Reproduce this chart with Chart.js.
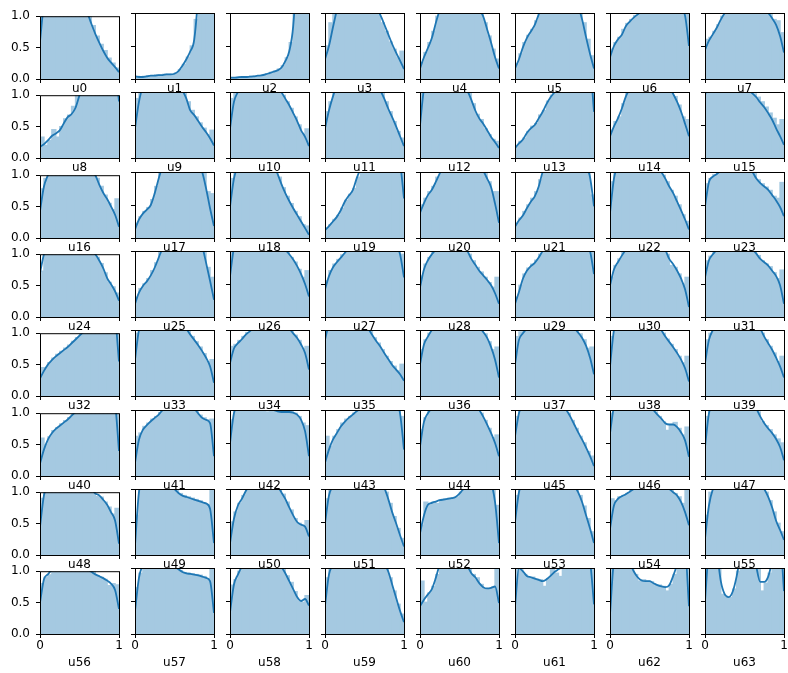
<!DOCTYPE html>
<html>
<head>
<meta charset="utf-8">
<script src="https://cdn.jsdelivr.net/npm/chart.js@4.4.1/dist/chart.umd.min.js"></script>
<style>
  html, body { margin: 0; padding: 0; background: #fff; }
  #grid { position: relative; width: 788px; height: 673px; overflow: hidden; }
  #grid canvas { position: absolute; }
</style>
</head>
<body>
<div id="grid"></div>
<script>
// Histogram bin centres (20 bins on [0, 1]) and the grid the density curves are sampled on.
const binCenters = [0.025,0.075,0.125,0.175,0.225,0.275,0.325,0.375,0.425,0.475,0.525,0.575,0.625,0.675,0.725,0.775,0.825,0.875,0.925,0.975];
const kdeGrid = [0,0.05,0.1,0.15,0.2,0.25,0.3,0.35,0.4,0.45,0.5,0.55,0.6,0.65,0.7,0.75,0.8,0.85,0.9,0.95,1];
const xTickValues = [0, 1];
const yTickValues = [0, 0.5, 1];

// Per-variable histogram densities and kernel density estimates.
const u0_hist = [1.1,1.35,1.45,1.5,1.55,1.55,1.5,1.45,1.4,1.3,1.25,1.15,1.0,0.85,0.68,0.55,0.45,0.33,0.25,0.17];
const u0_kde = [0.6,1.2,1.4,1.5,1.55,1.55,1.5,1.45,1.4,1.3,1.25,1.15,1.05,0.88,0.72,0.58,0.45,0.34,0.26,0.19,0.11];
const u1_hist = [0.04,0.03,0.04,0.05,0.05,0.06,0.06,0.07,0.07,0.07,0.09,0.14,0.22,0.33,0.5,0.9,1.8,3.0,3.8,4.2];
const u1_kde = [0.04,0.03,0.03,0.04,0.05,0.05,0.06,0.06,0.07,0.07,0.08,0.12,0.2,0.3,0.42,0.6,1.3,2.5,3.5,4.2,4.0];
const u2_hist = [0.02,0.02,0.03,0.03,0.03,0.04,0.04,0.05,0.06,0.08,0.1,0.12,0.15,0.2,0.32,0.55,1.2,2.8,4.8,6.0];
const u2_kde = [0.02,0.02,0.025,0.03,0.03,0.035,0.04,0.05,0.055,0.07,0.09,0.11,0.13,0.17,0.27,0.42,0.8,1.8,3.5,5.5,6.0];
const u3_hist = [0.5,0.85,1.1,1.35,1.45,1.55,1.6,1.6,1.55,1.45,1.35,1.25,1.1,0.98,0.85,0.72,0.56,0.45,0.32,0.42];
const u3_kde = [0.3,0.5,0.78,1.05,1.3,1.45,1.55,1.6,1.6,1.55,1.45,1.35,1.2,1.08,0.97,0.83,0.68,0.53,0.4,0.28,0.15];
const u4_hist = [0.25,0.4,0.55,0.72,0.95,1.15,1.3,1.45,1.5,1.55,1.55,1.5,1.4,1.3,1.15,1.0,0.85,0.65,0.45,0.3];
const u4_kde = [0.16,0.33,0.47,0.62,0.85,1.05,1.25,1.4,1.5,1.55,1.55,1.5,1.45,1.35,1.2,1.05,0.95,0.75,0.55,0.33,0.16];
const u5_hist = [0.22,0.38,0.55,0.66,0.75,0.88,1.05,1.2,1.35,1.4,1.45,1.45,1.45,1.4,1.35,1.25,1.1,0.85,0.6,0.35];
const u5_kde = [0.16,0.3,0.48,0.62,0.72,0.82,0.98,1.15,1.3,1.4,1.45,1.45,1.45,1.4,1.35,1.25,1.1,0.9,0.63,0.38,0.16];
const u6_hist = [0.45,0.55,0.63,0.75,0.84,0.9,0.96,1.0,1.05,1.08,1.1,1.12,1.13,1.14,1.15,1.15,1.14,1.1,1.05,1.05];
const u6_kde = [0.33,0.5,0.6,0.67,0.8,0.87,0.93,0.98,1.03,1.07,1.1,1.12,1.13,1.14,1.15,1.15,1.15,1.12,1.06,0.96,0.5];
const u7_hist = [0.6,0.63,0.72,0.82,0.95,1.05,1.1,1.15,1.2,1.22,1.22,1.2,1.18,1.15,1.1,1.05,0.98,0.9,0.88,0.7];
const u7_kde = [0.44,0.58,0.68,0.78,0.9,1.0,1.08,1.15,1.2,1.22,1.22,1.2,1.18,1.15,1.1,1.05,1.0,0.92,0.82,0.65,0.4];
const u8_hist = [0.33,0.2,0.28,0.45,0.33,0.5,0.62,0.68,0.82,1.1,1.25,1.4,1.5,1.6,1.65,1.7,1.7,1.65,1.55,1.3];
const u8_kde = [0.18,0.22,0.28,0.35,0.39,0.44,0.55,0.65,0.7,0.8,1.0,1.2,1.4,1.5,1.6,1.65,1.7,1.7,1.65,1.5,0.9];
const u9_hist = [0.9,1.0,1.2,1.3,1.38,1.42,1.45,1.45,1.42,1.35,1.25,1.15,1.02,0.85,0.72,0.62,0.53,0.45,0.35,0.42];
const u9_kde = [0.45,0.85,1.1,1.25,1.35,1.42,1.45,1.45,1.42,1.35,1.25,1.15,1.03,0.9,0.72,0.65,0.56,0.47,0.39,0.3,0.19];
const u10_hist = [0.9,1.0,1.1,1.2,1.25,1.3,1.33,1.35,1.35,1.32,1.25,1.15,1.05,0.95,0.85,0.75,0.62,0.5,0.36,0.44];
const u10_kde = [0.45,0.85,1.0,1.1,1.2,1.25,1.3,1.33,1.35,1.35,1.3,1.2,1.08,1.0,0.9,0.8,0.68,0.56,0.42,0.32,0.18];
const u11_hist = [0.7,0.85,1.0,1.15,1.25,1.3,1.35,1.35,1.35,1.33,1.3,1.25,1.18,1.1,0.98,0.85,0.7,0.55,0.4,0.3];
const u11_kde = [0.45,0.72,0.93,1.1,1.2,1.28,1.33,1.35,1.35,1.33,1.3,1.25,1.18,1.1,1.02,0.9,0.75,0.62,0.48,0.33,0.18];
const u12_hist = [1.0,1.2,1.3,1.38,1.42,1.45,1.45,1.42,1.38,1.3,1.2,1.1,0.98,0.82,0.66,0.58,0.44,0.35,0.28,0.25];
const u12_kde = [0.5,1.05,1.25,1.35,1.4,1.45,1.45,1.45,1.4,1.32,1.22,1.12,1.02,0.88,0.72,0.6,0.52,0.42,0.32,0.24,0.15];
const u13_hist = [0.18,0.25,0.3,0.4,0.48,0.52,0.65,0.72,0.86,0.95,1.05,1.2,1.3,1.4,1.5,1.52,1.55,1.52,1.45,1.3];
const u13_kde = [0.15,0.22,0.28,0.38,0.45,0.5,0.6,0.7,0.82,0.92,1.0,1.12,1.25,1.35,1.45,1.5,1.55,1.55,1.5,1.4,0.7];
const u14_hist = [0.42,0.55,0.62,0.82,0.98,1.1,1.18,1.22,1.26,1.28,1.3,1.3,1.28,1.25,1.18,1.05,0.93,0.8,0.62,0.58];
const u14_kde = [0.33,0.48,0.6,0.75,0.93,1.05,1.15,1.2,1.25,1.28,1.3,1.3,1.28,1.25,1.18,1.08,0.97,0.85,0.7,0.52,0.33];
const u15_hist = [1.2,1.25,1.3,1.35,1.35,1.33,1.3,1.25,1.2,1.12,1.06,1.03,0.97,0.92,0.85,0.77,0.68,0.6,0.5,0.58];
const u15_kde = [0.95,1.2,1.3,1.35,1.35,1.33,1.3,1.25,1.2,1.12,1.07,1.03,0.98,0.92,0.84,0.77,0.68,0.58,0.45,0.33,0.2];
const u16_hist = [0.78,0.95,1.1,1.2,1.28,1.32,1.36,1.38,1.38,1.35,1.3,1.25,1.15,1.05,0.95,0.82,0.68,0.55,0.45,0.62];
const u16_kde = [0.43,0.82,1.0,1.15,1.25,1.3,1.35,1.38,1.38,1.35,1.3,1.25,1.15,1.05,1.0,0.85,0.72,0.62,0.5,0.37,0.18];
const u17_hist = [0.22,0.32,0.4,0.46,0.58,0.78,1.0,1.2,1.3,1.38,1.42,1.45,1.45,1.42,1.35,1.25,1.12,0.98,0.7,0.67];
const u17_kde = [0.13,0.28,0.37,0.43,0.5,0.68,0.9,1.1,1.25,1.35,1.42,1.45,1.45,1.42,1.35,1.25,1.12,1.0,0.75,0.45,0.18];
const u18_hist = [0.9,1.05,1.2,1.3,1.38,1.42,1.45,1.45,1.42,1.36,1.25,1.05,0.92,0.76,0.63,0.52,0.4,0.32,0.2,0.18];
const u18_kde = [0.48,0.9,1.1,1.25,1.35,1.42,1.45,1.45,1.42,1.38,1.3,1.12,0.98,0.82,0.68,0.56,0.45,0.35,0.25,0.15,0.05];
const u19_hist = [0.15,0.2,0.28,0.34,0.45,0.57,0.66,0.75,0.92,1.05,1.15,1.25,1.35,1.42,1.48,1.52,1.55,1.55,1.45,1.2];
const u19_kde = [0.12,0.18,0.25,0.32,0.42,0.55,0.64,0.72,0.9,1.05,1.15,1.25,1.35,1.42,1.48,1.52,1.55,1.55,1.45,1.15,0.6];
const u20_hist = [0.5,0.6,0.7,0.78,0.92,1.05,1.15,1.2,1.24,1.26,1.27,1.27,1.25,1.22,1.16,1.08,0.98,0.85,0.7,0.7];
const u20_kde = [0.38,0.53,0.65,0.73,0.85,0.98,1.1,1.18,1.22,1.25,1.27,1.27,1.25,1.22,1.18,1.1,1.02,0.9,0.77,0.52,0.23];
const u21_hist = [0.22,0.3,0.4,0.5,0.6,0.7,0.88,1.05,1.15,1.25,1.3,1.33,1.36,1.37,1.38,1.37,1.33,1.25,1.1,0.65];
const u21_kde = [0.17,0.27,0.34,0.45,0.55,0.63,0.78,1.0,1.12,1.2,1.28,1.32,1.35,1.37,1.38,1.38,1.35,1.28,1.1,0.92,0.48];
const u22_hist = [0.85,1.05,1.2,1.28,1.33,1.37,1.38,1.37,1.33,1.28,1.2,1.12,1.05,0.95,0.85,0.72,0.63,0.5,0.35,0.25];
const u22_kde = [0.38,0.9,1.1,1.22,1.3,1.35,1.38,1.38,1.35,1.3,1.22,1.15,1.08,1.0,0.9,0.78,0.68,0.55,0.42,0.28,0.13];
const u23_hist = [0.82,0.9,0.96,1.0,1.04,1.08,1.1,1.12,1.13,1.12,1.1,1.05,0.98,0.88,0.82,0.77,0.72,0.63,0.6,0.84];
const u23_kde = [0.48,0.85,0.93,0.97,1.02,1.06,1.1,1.12,1.13,1.12,1.1,1.05,1.0,0.9,0.83,0.78,0.73,0.65,0.57,0.47,0.33];
const u24_hist = [0.73,1.05,1.2,1.28,1.3,1.32,1.33,1.33,1.32,1.3,1.25,1.2,1.12,1.05,0.95,0.85,0.7,0.55,0.48,0.38];
const u24_kde = [0.7,1.0,1.15,1.25,1.3,1.32,1.33,1.33,1.32,1.3,1.25,1.2,1.12,1.05,1.0,0.9,0.78,0.62,0.52,0.41,0.26];
const u25_hist = [0.3,0.43,0.5,0.58,0.7,0.82,0.98,1.12,1.22,1.3,1.38,1.4,1.42,1.42,1.4,1.35,1.22,1.0,0.75,0.6];
const u25_kde = [0.2,0.37,0.47,0.54,0.63,0.75,0.9,1.05,1.18,1.28,1.35,1.4,1.42,1.42,1.4,1.35,1.25,1.08,0.82,0.55,0.26];
const u26_hist = [1.0,1.15,1.25,1.3,1.33,1.36,1.38,1.37,1.36,1.33,1.28,1.22,1.15,1.07,0.98,0.9,0.83,0.72,0.6,0.7];
const u26_kde = [0.62,1.05,1.2,1.28,1.32,1.35,1.37,1.38,1.37,1.35,1.3,1.25,1.18,1.1,1.02,0.95,0.87,0.77,0.65,0.5,0.31];
const u27_hist = [0.55,0.7,0.8,0.87,0.94,1.0,1.08,1.15,1.2,1.23,1.26,1.27,1.28,1.28,1.27,1.25,1.22,1.18,1.1,0.95];
const u27_kde = [0.42,0.62,0.75,0.83,0.9,0.97,1.05,1.12,1.18,1.22,1.25,1.27,1.28,1.28,1.27,1.25,1.22,1.18,1.1,0.95,0.6];
const u28_hist = [0.62,0.8,0.9,0.98,1.05,1.14,1.22,1.26,1.27,1.22,1.15,1.05,0.95,0.85,0.75,0.68,0.6,0.52,0.45,0.6];
const u28_kde = [0.45,0.72,0.86,0.95,1.02,1.1,1.18,1.25,1.28,1.25,1.18,1.08,1.0,0.88,0.79,0.7,0.63,0.56,0.48,0.36,0.2];
const u29_hist = [0.3,0.48,0.65,0.74,0.8,0.86,0.95,1.05,1.12,1.18,1.22,1.24,1.26,1.27,1.28,1.28,1.27,1.23,1.12,1.0];
const u29_kde = [0.2,0.38,0.58,0.7,0.77,0.82,0.9,1.0,1.08,1.15,1.2,1.23,1.25,1.27,1.28,1.28,1.27,1.25,1.15,1.0,0.65];
const u30_hist = [0.6,0.78,0.88,0.98,1.06,1.14,1.22,1.28,1.32,1.33,1.32,1.26,1.17,1.07,0.95,0.78,0.75,0.65,0.5,0.6];
const u30_kde = [0.48,0.72,0.83,0.93,1.02,1.1,1.18,1.25,1.3,1.33,1.33,1.3,1.22,1.12,1.02,0.88,0.8,0.7,0.58,0.42,0.15];
const u31_hist = [0.85,0.92,1.0,1.06,1.1,1.14,1.16,1.18,1.18,1.16,1.12,1.07,1.0,0.93,0.85,0.8,0.76,0.67,0.58,0.71];
const u31_kde = [0.6,0.86,0.95,1.02,1.08,1.12,1.15,1.17,1.18,1.17,1.14,1.1,1.03,0.96,0.88,0.83,0.78,0.7,0.62,0.48,0.2];
const u32_hist = [0.45,0.45,0.53,0.6,0.66,0.71,0.76,0.81,0.87,0.93,0.98,1.04,1.1,1.17,1.25,1.31,1.37,1.39,1.33,1.15];
const u32_kde = [0.28,0.4,0.5,0.57,0.63,0.68,0.73,0.78,0.84,0.9,0.96,1.02,1.08,1.15,1.22,1.29,1.35,1.4,1.38,1.25,0.55];
const u33_hist = [0.95,1.1,1.2,1.28,1.32,1.34,1.35,1.35,1.33,1.3,1.25,1.18,1.1,0.98,0.9,0.82,0.74,0.64,0.52,0.55];
const u33_kde = [0.55,1.0,1.15,1.25,1.3,1.33,1.35,1.35,1.33,1.3,1.25,1.18,1.1,1.02,0.93,0.85,0.77,0.68,0.58,0.45,0.2];
const u34_hist = [0.75,0.78,0.84,0.9,0.96,1.0,1.05,1.1,1.13,1.16,1.17,1.16,1.14,1.1,1.05,0.98,0.92,0.84,0.72,0.75];
const u34_kde = [0.5,0.72,0.8,0.86,0.93,0.98,1.03,1.08,1.12,1.15,1.17,1.17,1.15,1.12,1.08,1.02,0.95,0.88,0.78,0.65,0.4];
const u35_hist = [1.0,1.2,1.3,1.35,1.37,1.38,1.37,1.35,1.3,1.22,1.1,0.98,0.88,0.8,0.7,0.6,0.52,0.45,0.38,0.48];
const u35_kde = [0.85,1.1,1.25,1.32,1.36,1.38,1.38,1.36,1.32,1.25,1.15,1.02,0.92,0.83,0.75,0.65,0.56,0.47,0.4,0.33,0.23];
const u36_hist = [0.7,0.85,0.95,1.04,1.1,1.15,1.18,1.21,1.22,1.23,1.23,1.22,1.2,1.16,1.1,1.02,0.94,0.82,0.7,0.74];
const u36_kde = [0.48,0.78,0.9,1.0,1.08,1.13,1.17,1.2,1.22,1.23,1.23,1.22,1.2,1.17,1.12,1.05,0.97,0.88,0.74,0.55,0.28];
const u37_hist = [0.9,0.97,1.0,1.05,1.1,1.14,1.16,1.17,1.18,1.18,1.18,1.17,1.15,1.12,1.07,1.02,0.94,0.85,0.72,0.74];
const u37_kde = [0.48,0.85,0.95,1.02,1.08,1.12,1.15,1.17,1.18,1.18,1.18,1.17,1.15,1.12,1.08,1.03,0.96,0.88,0.76,0.58,0.33];
const u38_hist = [0.9,1.1,1.2,1.25,1.28,1.31,1.33,1.33,1.32,1.3,1.25,1.15,1.05,0.95,0.86,0.78,0.7,0.6,0.5,0.6];
const u38_kde = [0.45,1.0,1.15,1.22,1.27,1.3,1.32,1.33,1.33,1.32,1.28,1.2,1.1,1.0,0.9,0.82,0.74,0.65,0.55,0.42,0.22];
const u39_hist = [0.85,0.95,1.05,1.13,1.2,1.24,1.26,1.28,1.28,1.27,1.26,1.22,1.15,1.05,0.95,0.85,0.75,0.65,0.52,0.6];
const u39_kde = [0.5,0.85,1.0,1.1,1.17,1.22,1.25,1.27,1.28,1.28,1.27,1.25,1.2,1.12,1.02,0.9,0.8,0.7,0.58,0.45,0.28];
const u40_hist = [0.6,0.5,0.62,0.72,0.77,0.83,0.88,0.93,0.98,1.04,1.1,1.15,1.2,1.23,1.26,1.29,1.3,1.29,1.25,1.1];
const u40_kde = [0.2,0.42,0.58,0.68,0.75,0.8,0.85,0.9,0.96,1.02,1.08,1.13,1.18,1.22,1.25,1.28,1.3,1.3,1.28,1.15,0.4];
const u41_hist = [0.6,0.65,0.75,0.8,0.86,0.9,0.96,1.02,1.07,1.11,1.14,1.15,1.14,1.12,1.06,0.98,0.92,0.88,0.85,0.86];
const u41_kde = [0.2,0.55,0.7,0.77,0.83,0.88,0.93,1.0,1.05,1.1,1.13,1.15,1.15,1.13,1.08,1.02,0.95,0.88,0.85,0.8,0.3];
const u42_hist = [0.85,1.0,1.08,1.1,1.12,1.12,1.1,1.08,1.05,0.97,1.02,1.0,0.98,0.97,0.96,0.97,0.95,0.9,0.8,0.76];
const u42_kde = [0.5,0.95,1.05,1.1,1.12,1.13,1.12,1.1,1.07,1.04,1.02,1.0,0.98,0.97,0.97,0.97,0.96,0.93,0.85,0.68,0.3];
const u43_hist = [0.6,0.45,0.6,0.7,0.8,0.86,0.9,0.95,1.0,1.04,1.08,1.12,1.15,1.17,1.19,1.2,1.2,1.18,1.1,0.9];
const u43_kde = [0.2,0.4,0.55,0.65,0.75,0.82,0.88,0.93,0.98,1.02,1.06,1.1,1.13,1.16,1.18,1.2,1.2,1.2,1.15,0.95,0.4];
const u44_hist = [0.7,0.88,0.98,1.05,1.12,1.16,1.19,1.21,1.22,1.22,1.21,1.19,1.16,1.11,1.04,0.95,0.84,0.72,0.58,0.62];
const u44_kde = [0.45,0.82,0.95,1.03,1.1,1.15,1.18,1.2,1.22,1.22,1.22,1.2,1.18,1.14,1.08,1.0,0.9,0.78,0.65,0.5,0.3];
const u45_hist = [0.9,1.05,1.15,1.22,1.26,1.29,1.3,1.29,1.27,1.23,1.18,1.12,1.04,0.95,0.84,0.72,0.6,0.5,0.37,0.3];
const u45_kde = [0.6,0.95,1.1,1.2,1.25,1.28,1.3,1.3,1.28,1.25,1.2,1.15,1.08,1.0,0.9,0.78,0.66,0.55,0.43,0.3,0.15];
const u46_hist = [0.95,1.1,1.18,1.22,1.24,1.25,1.25,1.23,1.2,1.15,1.05,0.97,0.9,0.82,0.69,0.78,0.81,0.72,0.62,0.74];
const u46_kde = [0.65,1.05,1.15,1.2,1.23,1.25,1.25,1.24,1.22,1.18,1.1,1.0,0.93,0.87,0.8,0.78,0.78,0.74,0.66,0.54,0.29];
const u47_hist = [0.9,1.05,1.15,1.2,1.24,1.26,1.27,1.28,1.28,1.26,1.23,1.17,1.08,0.97,0.82,0.76,0.7,0.62,0.56,0.5];
const u47_kde = [0.44,0.95,1.1,1.18,1.22,1.25,1.27,1.28,1.28,1.27,1.25,1.2,1.12,1.02,0.9,0.8,0.72,0.65,0.56,0.44,0.24];
const u48_hist = [0.9,1.05,1.15,1.2,1.24,1.26,1.28,1.28,1.27,1.25,1.22,1.15,1.08,1.0,0.93,0.92,0.84,0.76,0.65,0.74];
const u48_kde = [0.45,0.95,1.1,1.17,1.22,1.25,1.27,1.28,1.28,1.27,1.25,1.2,1.12,1.05,0.98,0.95,0.88,0.8,0.68,0.55,0.18];
const u49_hist = [0.6,1.05,1.15,1.18,1.2,1.2,1.18,1.14,1.1,1.04,0.98,0.93,0.9,0.88,0.86,0.84,0.82,0.79,0.76,1.02];
const u49_kde = [0.15,0.95,1.12,1.18,1.2,1.2,1.18,1.15,1.1,1.05,1.0,0.94,0.9,0.88,0.86,0.84,0.82,0.8,0.78,0.7,0.18];
const u50_hist = [0.5,0.65,0.78,0.9,1.0,1.08,1.14,1.18,1.2,1.2,1.16,1.1,1.02,0.92,0.8,0.68,0.55,0.48,0.45,0.52];
const u50_kde = [0.18,0.55,0.75,0.85,0.97,1.05,1.12,1.17,1.2,1.2,1.18,1.12,1.05,0.95,0.85,0.72,0.6,0.5,0.46,0.43,0.28];
const u51_hist = [0.85,1.0,1.12,1.2,1.25,1.29,1.31,1.33,1.33,1.32,1.31,1.28,1.22,1.15,1.06,0.95,0.78,0.58,0.4,0.25];
const u51_kde = [0.48,0.9,1.05,1.15,1.22,1.27,1.3,1.32,1.33,1.33,1.32,1.3,1.25,1.18,1.1,1.02,0.85,0.65,0.48,0.3,0.13];
const u52_hist = [0.45,0.8,0.77,0.8,0.78,0.83,0.85,0.86,0.86,0.88,0.95,1.02,1.1,1.16,1.2,1.22,1.22,1.18,1.05,0.75];
const u52_kde = [0.33,0.6,0.76,0.79,0.81,0.83,0.84,0.85,0.86,0.88,0.93,1.0,1.08,1.15,1.2,1.22,1.22,1.2,1.1,0.8,0.18];
const u53_hist = [0.9,1.05,1.15,1.18,1.21,1.22,1.23,1.24,1.24,1.24,1.23,1.21,1.18,1.15,1.1,1.0,0.9,0.74,0.55,0.35];
const u53_kde = [0.5,0.95,1.1,1.17,1.2,1.22,1.23,1.24,1.24,1.24,1.23,1.22,1.2,1.17,1.12,1.05,0.95,0.8,0.6,0.4,0.18];
const u54_hist = [0.85,0.82,0.88,0.9,0.93,0.98,1.02,1.06,1.09,1.1,1.12,1.12,1.1,1.06,1.02,0.98,0.93,0.88,0.78,1.02];
const u54_kde = [0.4,0.75,0.85,0.89,0.92,0.96,1.0,1.05,1.08,1.1,1.12,1.12,1.1,1.07,1.03,1.0,0.95,0.9,0.8,0.65,0.45];
const u55_hist = [0.6,0.95,1.1,1.17,1.22,1.26,1.28,1.3,1.3,1.3,1.28,1.24,1.18,1.12,1.05,0.95,0.82,0.65,0.48,0.35];
const u55_kde = [0.25,0.75,1.0,1.12,1.2,1.25,1.28,1.3,1.3,1.3,1.28,1.25,1.2,1.15,1.08,1.0,0.88,0.72,0.52,0.38,0.23];
const u56_hist = [0.8,0.9,0.94,1.05,1.08,1.11,1.12,1.13,1.13,1.12,1.1,1.06,1.02,1.0,0.93,0.9,0.87,0.77,0.8,0.78];
const u56_kde = [0.5,0.87,0.95,1.02,1.07,1.1,1.12,1.13,1.13,1.12,1.1,1.07,1.03,0.99,0.95,0.92,0.89,0.85,0.8,0.7,0.4];
const u57_hist = [0.7,0.92,1.1,1.14,1.16,1.17,1.16,1.14,1.1,1.05,1.0,0.96,0.93,0.92,0.91,0.9,0.89,0.87,0.84,1.02];
const u57_kde = [0.35,0.85,1.05,1.12,1.15,1.17,1.17,1.15,1.12,1.08,1.03,0.98,0.94,0.92,0.91,0.9,0.89,0.87,0.85,0.8,0.32];
const u58_hist = [0.74,0.82,0.95,1.05,1.12,1.16,1.19,1.2,1.2,1.2,1.17,1.13,1.08,1.0,0.88,0.78,0.64,0.5,0.48,0.58];
const u58_kde = [0.33,0.75,0.9,1.02,1.1,1.15,1.18,1.2,1.2,1.2,1.18,1.15,1.1,1.02,0.92,0.8,0.68,0.56,0.5,0.53,0.43];
const u59_hist = [0.85,1.0,1.1,1.18,1.24,1.28,1.31,1.32,1.31,1.3,1.27,1.23,1.18,1.13,1.08,1.0,0.85,0.65,0.45,0.3];
const u59_kde = [0.43,0.9,1.05,1.15,1.22,1.27,1.3,1.32,1.32,1.3,1.28,1.25,1.2,1.15,1.1,1.05,0.95,0.75,0.55,0.35,0.18];
const u60_hist = [0.8,0.48,0.62,0.72,0.9,1.08,1.16,1.2,1.22,1.22,1.18,1.1,1.02,0.9,0.85,0.75,0.68,0.68,0.7,0.98];
const u60_kde = [0.42,0.52,0.6,0.68,0.85,1.05,1.15,1.2,1.22,1.22,1.2,1.12,1.03,0.92,0.86,0.77,0.71,0.69,0.7,0.72,0.47];
const u61_hist = [1.05,0.97,0.9,0.85,0.86,0.83,0.82,0.72,0.84,1.0,0.92,0.87,1.03,1.1,1.2,1.25,1.28,1.28,1.22,1.05];
const u61_kde = [0.42,1.0,0.95,0.88,0.86,0.84,0.82,0.8,0.83,0.88,0.94,0.98,1.02,1.1,1.2,1.25,1.28,1.28,1.25,1.1,0.45];
const u62_hist = [1.1,1.2,1.2,1.15,1.1,1.0,0.9,0.8,0.82,0.8,0.79,0.73,0.74,0.72,0.65,0.75,0.9,1.05,1.2,1.2];
const u62_kde = [0.3,1.1,1.2,1.2,1.15,1.08,0.95,0.86,0.81,0.8,0.8,0.77,0.74,0.72,0.71,0.74,0.88,1.05,1.2,1.25,0.42];
const u63_hist = [1.3,1.5,1.4,1.1,0.6,0.55,0.55,0.68,0.95,1.3,1.5,1.5,1.35,1.0,0.65,0.77,0.92,1.15,1.35,1.4];
const u63_kde = [0.5,1.3,1.5,1.25,0.8,0.6,0.56,0.64,0.87,1.2,1.45,1.5,1.4,1.02,0.79,0.79,0.87,1.1,1.35,1.4,0.65];

const histograms = [
  u0_hist,u1_hist,u2_hist,u3_hist,u4_hist,u5_hist,u6_hist,u7_hist,
  u8_hist,u9_hist,u10_hist,u11_hist,u12_hist,u13_hist,u14_hist,u15_hist,
  u16_hist,u17_hist,u18_hist,u19_hist,u20_hist,u21_hist,u22_hist,u23_hist,
  u24_hist,u25_hist,u26_hist,u27_hist,u28_hist,u29_hist,u30_hist,u31_hist,
  u32_hist,u33_hist,u34_hist,u35_hist,u36_hist,u37_hist,u38_hist,u39_hist,
  u40_hist,u41_hist,u42_hist,u43_hist,u44_hist,u45_hist,u46_hist,u47_hist,
  u48_hist,u49_hist,u50_hist,u51_hist,u52_hist,u53_hist,u54_hist,u55_hist,
  u56_hist,u57_hist,u58_hist,u59_hist,u60_hist,u61_hist,u62_hist,u63_hist
];
const densities = [
  u0_kde,u1_kde,u2_kde,u3_kde,u4_kde,u5_kde,u6_kde,u7_kde,
  u8_kde,u9_kde,u10_kde,u11_kde,u12_kde,u13_kde,u14_kde,u15_kde,
  u16_kde,u17_kde,u18_kde,u19_kde,u20_kde,u21_kde,u22_kde,u23_kde,
  u24_kde,u25_kde,u26_kde,u27_kde,u28_kde,u29_kde,u30_kde,u31_kde,
  u32_kde,u33_kde,u34_kde,u35_kde,u36_kde,u37_kde,u38_kde,u39_kde,
  u40_kde,u41_kde,u42_kde,u43_kde,u44_kde,u45_kde,u46_kde,u47_kde,
  u48_kde,u49_kde,u50_kde,u51_kde,u52_kde,u53_kde,u54_kde,u55_kde,
  u56_kde,u57_kde,u58_kde,u59_kde,u60_kde,u61_kde,u62_kde,u63_kde
];
const panelNames = histograms.map((_, i) => 'u' + i);

// ---- layout of the 8 x 8 grid of small axes ----
const NCOLS = 8;
const PLOT_W = 79, PLOT_H = 66;
const Y_AXIS_W = 45, TOP_PAD = 10, RIGHT_PAD = 10, X_AXIS_H = 40;
const colLefts = [40, 135, 230, 325, 420, 515, 610, 705];
const rowTops = [13, 92, 172, 251, 330, 410, 489, 568];

const BAR_FILL = '#a5c9e1';   // tab:blue at 40% on white
const LINE_BLUE = '#1f77b4';
const FONT = { family: 'DejaVu Sans', size: 12 };

Chart.defaults.font.family = FONT.family;
Chart.defaults.font.size = FONT.size;
Chart.defaults.color = '#000';

// White axes background underneath, full rectangular frame on top.
const axesFrame = {
  id: 'axesFrame',
  beforeDraw(chart) {
    const { ctx, chartArea: a } = chart;
    ctx.save();
    ctx.fillStyle = '#ffffff';
    ctx.fillRect(a.left, a.top, a.width + 1, a.height + 1);
    ctx.restore();
  },
  afterDraw(chart) {
    const { ctx, chartArea: a } = chart;
    ctx.save();
    ctx.strokeStyle = '#000';
    ctx.lineWidth = 1;
    ctx.strokeRect(a.left + 0.5, a.top + 0.5, a.width, a.height);
    ctx.restore();
  }
};

const grid = document.getElementById('grid');

histograms.forEach((hist, i) => {
  const r = Math.floor(i / NCOLS), c = i % NCOLS;
  const isBottom = r === rowTops.length - 1;
  const isLeft = c === 0;

  const canvas = document.createElement('canvas');
  canvas.width = Y_AXIS_W + PLOT_W + RIGHT_PAD;
  canvas.height = TOP_PAD + PLOT_H + X_AXIS_H;
  canvas.style.left = (colLefts[c] - Y_AXIS_W) + 'px';
  canvas.style.top = (rowTops[r] - TOP_PAD) + 'px';
  grid.appendChild(canvas);

  const tickGrid = {
    display: true, drawOnChartArea: false, drawTicks: true,
    tickLength: 4, color: '#000', lineWidth: 1, offset: false
  };

  new Chart(canvas, {
    type: 'bar',
    data: {
      datasets: [
        {
          type: 'line',
          data: densities[i].map((y, k) => ({ x: kdeGrid[k], y })),
          borderColor: LINE_BLUE,
          borderWidth: 1.8,
          pointRadius: 0,
          cubicInterpolationMode: 'monotone',
          clip: 0,
          order: 0
        },
        {
          type: 'bar',
          data: hist.map((y, k) => ({ x: binCenters[k], y })),
          backgroundColor: BAR_FILL,
          borderWidth: 0,
          barPercentage: 1,
          categoryPercentage: 1,
          inflateAmount: 0.7,   // neighbouring bins overlap slightly so no hairline seams show
          clip: 0,
          order: 1
        }
      ]
    },
    options: {
      responsive: false,
      animation: false,
      events: [],
      layout: { padding: { left: 0, top: TOP_PAD, right: RIGHT_PAD, bottom: 0 } },
      plugins: { legend: { display: false }, tooltip: { enabled: false } },
      scales: {
        x: {
          type: 'linear',
          min: xTickValues[0], max: xTickValues[xTickValues.length - 1],
          offset: false,
          afterBuildTicks: s => { s.ticks = xTickValues.map(v => ({ value: v })); },
          afterFit: s => { s.height = X_AXIS_H; },
          ticks: { display: isBottom, maxRotation: 0, autoSkip: false, padding: 1,
                   color: '#000', font: FONT, callback: v => String(v) },
          grid: tickGrid,
          border: { display: false },
          title: { display: true, text: panelNames[i], color: '#000', font: FONT,
                   padding: { top: 0, bottom: isBottom ? 4 : 22.5 } }
        },
        y: {
          type: 'linear',
          min: yTickValues[0], max: yTickValues[yTickValues.length - 1],
          afterBuildTicks: s => { s.ticks = yTickValues.map(v => ({ value: v })); },
          afterFit: s => { s.width = Y_AXIS_W; },
          ticks: { display: isLeft, padding: 6, color: '#000', font: FONT,
                   callback: v => Number(v).toFixed(1) },
          grid: tickGrid,
          border: { display: false }
        }
      }
    },
    plugins: [axesFrame]
  });
});
</script>
</body>
</html>
